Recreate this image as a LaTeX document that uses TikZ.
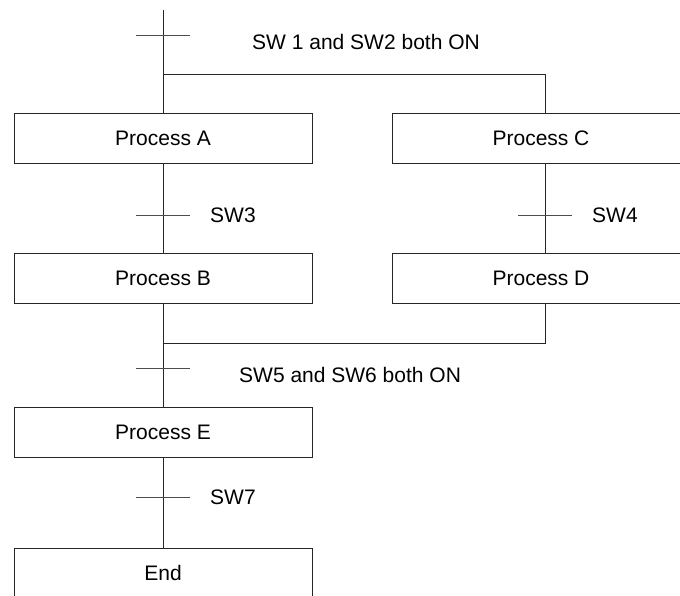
\documentclass[tikz,border=0pt]{standalone}
\usepackage{fontspec}
\setmainfont{Liberation Sans}
\usetikzlibrary{positioning,calc}
\tikzset{
  proc/.style={draw=black!85, fill=white, minimum width=298pt, minimum height=50pt,
    inner sep=0pt, line width=1pt, font=\fontsize{21}{25}\selectfont},
  wire/.style={line width=1pt, color=black!85},
  tickmark/.style={line width=1pt, color=black!70},
  cond/.style={anchor=west, inner sep=0pt, font=\fontsize{21}{25}\selectfont},
}
\begin{document}
\begin{tikzpicture}[x=1pt,y=-1pt]
  \useasboundingbox (0,0) rectangle (680,595);
  \clip (0,0) rectangle (680,595);
  % steps
  \node[proc] (procA) at (163,138) {Process A};
  \node[proc] (procB) at (163,278.5) {Process B};
  \node[proc] (procC) at (541,138) {Process C};
  \node[proc] (procD) at (541,278.5) {Process D};
  \node[proc] (procE) at (163,432.5) {Process E};
  \node[proc] (procEnd) at (163,573) {End};
  % branch and merge points
  \coordinate (start) at (163,10);
  \coordinate (splitL) at (163,74);
  \coordinate (splitR) at (545,74);
  \coordinate (mergeL) at (163,343);
  \coordinate (mergeR) at (545,343);
  % transitions
  \coordinate (tr1) at (163,35);
  \coordinate (tr3) at (163,215);
  \coordinate (tr4) at (545,215);
  \coordinate (tr5) at (163,368);
  \coordinate (tr7) at (163,497);
  % wires
  \draw[wire] (start) -- (procA.north);
  \draw[wire] (splitL) -- (splitR) -- (splitR |- procC.north);
  \draw[wire] (procA.south) -- (procB.north);
  \draw[wire] (splitR |- procC.south) -- (splitR |- procD.north);
  \draw[wire] (procB.south) -- (procE.north);
  \draw[wire] (splitR |- procD.south) -- (mergeR) -- (mergeL);
  \draw[wire] (procE.south) -- (procEnd.north);
  \foreach \t in {tr1,tr3,tr4,tr5,tr7} {
    \draw[tickmark] ([xshift=-27pt]\t) -- ([xshift=27pt]\t);
  }
  % conditions
  \node[cond] (cond12) at (252,42) {SW 1 and SW2 both ON};
  \node[cond] (cond3) at (210,215.5) {SW3};
  \node[cond] (cond4) at (592,215.5) {SW4};
  \node[cond] (cond56) at (239,374.5) {SW5 and SW6 both ON};
  \node[cond] (cond7) at (210,497.5) {SW7};
\end{tikzpicture}
\end{document}
